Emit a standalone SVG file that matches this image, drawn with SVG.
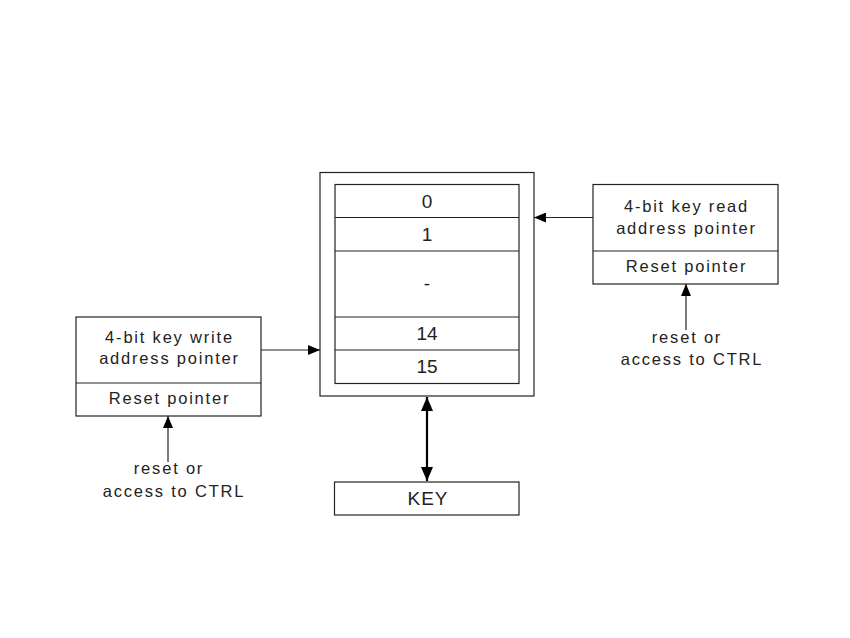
<svg xmlns="http://www.w3.org/2000/svg" width="850" height="638" viewBox="0 0 850 638">
<style>
.b{fill:#fff;stroke:#222;stroke-width:1.2}
.t{font-family:"Liberation Sans",Arial,sans-serif;font-size:16.5px;fill:#222;text-anchor:middle;letter-spacing:1.8px}
.n{font-family:"Liberation Sans",Arial,sans-serif;font-size:19px;fill:#222;text-anchor:middle}
.c{stroke:#222;stroke-width:1.2;fill:none}
.d{stroke:#000;stroke-width:2.2;fill:none}
</style>
<defs>
<marker id="a" markerWidth="12" markerHeight="10" refX="12" refY="5" orient="auto" markerUnits="userSpaceOnUse"><path d="M0,0L12,5L0,10Z" fill="#000"/></marker>
<marker id="s" markerWidth="14" markerHeight="12" refX="14" refY="6" orient="auto-start-reverse" markerUnits="userSpaceOnUse"><path d="M0,0L14,6L0,12Z" fill="#000"/></marker>
</defs>
<rect width="850" height="638" fill="#fff"/>
<g id="memory">
<rect class="b" x="320" y="172.5" width="214" height="223.5"/>
<rect class="b" x="335" y="184.5" width="184" height="199"/>
<line class="c" x1="335" y1="217.5" x2="519" y2="217.5"/>
<line class="c" x1="335" y1="251" x2="519" y2="251"/>
<line class="c" x1="335" y1="317" x2="519" y2="317"/>
<line class="c" x1="335" y1="350" x2="519" y2="350"/>
<text class="n" x="427" y="208">0</text>
<text class="n" x="427" y="241">1</text>
<text class="n" x="427" y="290">-</text>
<text class="n" x="427" y="340">14</text>
<text class="n" x="427" y="373">15</text>
</g>
<g id="write-pointer">
<rect class="b" x="76" y="317" width="185" height="99"/>
<line class="c" x1="76" y1="383" x2="261" y2="383"/>
<text class="t" x="169.5" y="343">4-bit key write</text>
<text class="t" x="169.5" y="364">address pointer</text>
<text class="t" x="169.5" y="404">Reset pointer</text>
</g>
<g id="read-pointer">
<rect class="b" x="593" y="184.5" width="185" height="99.5"/>
<line class="c" x1="593" y1="251" x2="778" y2="251"/>
<text class="t" x="686.5" y="212">4-bit key read</text>
<text class="t" x="686.5" y="234">address pointer</text>
<text class="t" x="686.5" y="272">Reset pointer</text>
</g>
<g id="key">
<rect class="b" x="334.5" y="482" width="184.5" height="33"/>
<text class="n" x="428" y="505" style="letter-spacing:1px">KEY</text>
</g>
<g id="write-label">
<text class="t" x="169" y="474">reset or</text>
<text class="t" x="174" y="497">access to CTRL</text>
</g>
<g id="read-label">
<text class="t" x="687" y="343">reset or</text>
<text class="t" x="692" y="365">access to CTRL</text>
</g>
<g id="connectors">
<line class="c" x1="261" y1="350" x2="320" y2="350" marker-end="url(#a)"/>
<line class="c" x1="593" y1="217.5" x2="534" y2="217.5" marker-end="url(#a)"/>
<line class="c" x1="168" y1="462" x2="168" y2="416" marker-end="url(#a)"/>
<line class="c" x1="686" y1="330" x2="686" y2="284" marker-end="url(#a)"/>
<line class="d" x1="427" y1="397" x2="427" y2="481" marker-start="url(#s)" marker-end="url(#s)"/>
</g>
</svg>
